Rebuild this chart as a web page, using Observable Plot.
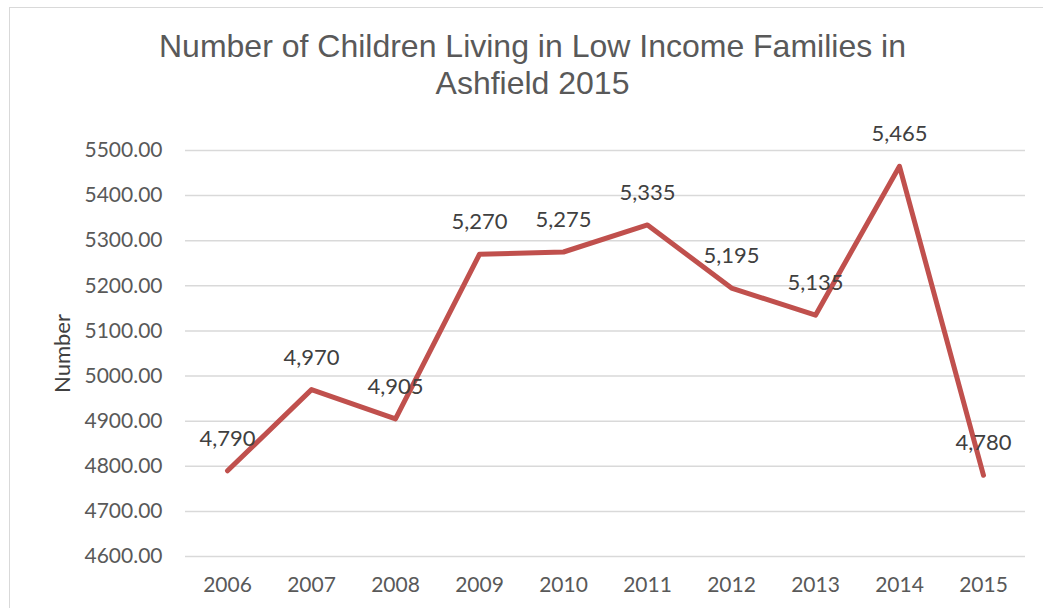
<!DOCTYPE html>
<html>
<head>
<meta charset="utf-8">
<script src="https://cdn.jsdelivr.net/npm/d3@7"></script>
<script src="https://cdn.jsdelivr.net/npm/@observablehq/plot@0.6"></script>
<style>
  html, body { margin: 0; padding: 0; background: #fff; width: 1043px; height: 608px; overflow: hidden; }
  #frame { position: absolute; left: 9px; top: 7px; width: 1100px; height: 700px; border: 1px solid #d9d9d9; box-sizing: border-box; }
  #title { position: relative; height: 105px; box-sizing: border-box; padding-top: 28px; padding-left: 22px;
           font-family: "Liberation Sans", Arial, sans-serif; font-size: 32px; line-height: 37px; color: #595959; text-align: center; }
  #chart { position: relative; }
</style>
</head>
<body>
<div id="frame"></div>
<div id="title">Number of Children Living in Low Income Families in<br>Ashfield 2015</div>
<div id="chart"></div>
<script>
const years = ["2006","2007","2008","2009","2010","2011","2012","2013","2014","2015"];
const values = [4790, 4970, 4905, 5270, 5275, 5335, 5195, 5135, 5465, 4780];
const yTicks = [4600, 4700, 4800, 4900, 5000, 5100, 5200, 5300, 5400, 5500];
const data = years.map((y, i) => ({year: y, value: values[i]}));

const chart = Plot.plot({
  width: 1043,
  height: 503,
  marginLeft: 185,
  marginRight: 18,
  marginTop: 45,
  marginBottom: 52,
  style: {fontFamily: "Lato, 'Open Sans', sans-serif", fontSize: "21px", color: "#595959", background: "transparent"},
  x: {type: "point", domain: years, padding: 0.5, label: null},
  y: {domain: [4600, 5500], label: null},
  marks: [
    Plot.gridY(yTicks, {stroke: "#d9d9d9", strokeOpacity: 1, strokeWidth: 1.5}),
    Plot.line(data, {x: "year", y: "value", stroke: "#C0504D", strokeWidth: 5, strokeLinecap: "round", strokeLinejoin: "round"}),
    Plot.text(data, {x: "year", y: "value", text: d => d3.format(",")(d.value), dy: -32, fill: "#404040", fontSize: 22}),
    Plot.axisX({tickSize: 0, tickPadding: 21, fontSize: 21}),
    Plot.axisY({ticks: yTicks, tickFormat: d3.format(".2f"), tickSize: 0, tickPadding: 23, fontSize: 21}),
    Plot.text(["Number"], {frameAnchor: "left", dx: -123, rotate: -90, textAnchor: "middle", fill: "#404040", fontSize: 22})
  ]
});
document.getElementById("chart").appendChild(chart);
</script>
</body>
</html>
